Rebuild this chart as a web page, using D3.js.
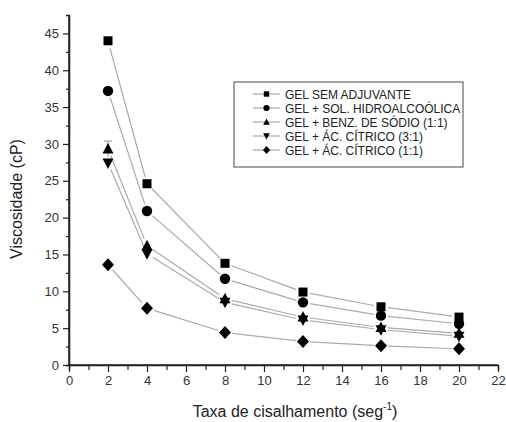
<!DOCTYPE html>
<html><head><meta charset="utf-8">
<script src="https://cdn.jsdelivr.net/npm/d3@7/dist/d3.min.js"></script>
<style>body{margin:0;background:#fff}svg{display:block}text{font-family:"Liberation Sans",Arial,sans-serif;fill:#222}</style>
</head><body><svg id="c" width="506" height="422"></svg>
<script>
const xs = [2, 4, 8, 12, 16, 20];
const seriesNames = ["GEL SEM ADJUVANTE","GEL + SOL. HIDROALCOÓLICA","GEL + BENZ. DE SÓDIO (1:1)","GEL + ÁC. CÍTRICO (3:1)","GEL + ÁC. CÍTRICO (1:1)"];
const semAdjuvante = [44.0, 24.6, 13.8, 9.9, 7.9, 6.5];
const solHidro = [37.2, 20.9, 11.7, 8.5, 6.7, 5.6];
const benzSodio = [29.3, 16.2, 9.0, 6.5, 5.1, 4.3];
const acCitrico31 = [27.4, 15.1, 8.5, 6.1, 4.8, 3.9];
const acCitrico11 = [13.6, 7.7, 4.4, 3.2, 2.6, 2.2];
const errBar = {x: 2, lo: 28.2, hi: 30.4};
const xTicks = [0,2,4,6,8,10,12,14,16,18,20,22];
const yTicks = [0,5,10,15,20,25,30,35,40,45];
const symbols = ["square","circle","triangle","triangleDown","diamond"];
const allSeries = [semAdjuvante, solHidro, benzSodio, acCitrico31, acCitrico11];

const svg = d3.select("#c");
const x = d3.scaleLinear().domain([0,22]).range([69,498]);
const y = d3.scaleLinear().domain([0,47.5]).range([365,15]);

function marker(g, type, cx, cy, s) {
  if (type==="square") g.append("rect").attr("x",cx-4.5*s).attr("y",cy-4.5*s).attr("width",9*s).attr("height",9*s).attr("fill","#000");
  else if (type==="circle") g.append("circle").attr("cx",cx).attr("cy",cy).attr("r",5.2*s).attr("fill","#000");
  else if (type==="triangle") g.append("path").attr("d",`M${cx},${cy-6*s}L${cx+5.5*s},${cy+4.5*s}L${cx-5.5*s},${cy+4.5*s}Z`).attr("fill","#000");
  else if (type==="triangleDown") g.append("path").attr("d",`M${cx},${cy+6*s}L${cx+5.5*s},${cy-4.5*s}L${cx-5.5*s},${cy-4.5*s}Z`).attr("fill","#000");
  else g.append("path").attr("d",`M${cx},${cy-6.5*s}L${cx+6*s},${cy}L${cx},${cy+6.5*s}L${cx-6*s},${cy}Z`).attr("fill","#000");
}

// axes
const ax = svg.append("g").attr("transform","translate(0,365)")
  .call(d3.axisBottom(x).tickValues(xTicks).tickSize(7).tickPadding(4).tickFormat(d3.format("d")));
const axm = svg.append("g").attr("transform","translate(0,365)")
  .call(d3.axisBottom(x).tickValues(d3.range(1,22,2)).tickSize(5).tickFormat(""));
const ay = svg.append("g").attr("transform","translate(69,0)")
  .call(d3.axisLeft(y).tickValues(yTicks).tickSize(6).tickPadding(4).tickFormat(d3.format("d")));
const aym = svg.append("g").attr("transform","translate(69,0)")
  .call(d3.axisLeft(y).tickValues(d3.range(2.5,47.5,5)).tickSize(3).tickFormat(""));
[ax,axm,ay,aym].forEach(a=>{
  a.select(".domain").attr("stroke","#222").attr("stroke-width",1.5);
  a.selectAll(".tick line").attr("stroke","#222").attr("stroke-width",1.2);
  a.selectAll(".tick text").attr("font-size",13).style("fill","#333").attr("font-family","Liberation Sans, Arial, sans-serif");
});
ay.select(".domain").attr("d","M0,15V365");
ax.select(".domain").attr("d","M69,0H498");

// lines (with gaps at markers)
const gl = svg.append("g");
allSeries.forEach(vals=>{
  for (let i=0;i<xs.length-1;i++){
    const x1=x(xs[i]), y1=y(vals[i]), x2=x(xs[i+1]), y2=y(vals[i+1]);
    const L=Math.hypot(x2-x1,y2-y1), g=7;
    const ux=(x2-x1)/L, uy=(y2-y1)/L;
    gl.append("line").attr("x1",x1+ux*g).attr("y1",y1+uy*g).attr("x2",x2-ux*g).attr("y2",y2-uy*g)
      .attr("stroke","#aaa").attr("stroke-width",1.2);
  }
});
// error bar
svg.append("line").attr("x1",x(errBar.x)).attr("x2",x(errBar.x)).attr("y1",y(errBar.lo)).attr("y2",y(errBar.hi)).attr("stroke","#999").attr("stroke-width",1);
svg.append("line").attr("x1",x(errBar.x)-4).attr("x2",x(errBar.x)+4).attr("y1",y(errBar.hi)).attr("y2",y(errBar.hi)).attr("stroke","#999").attr("stroke-width",1);

const gm = svg.append("g");
allSeries.forEach((vals,k)=>{
  vals.forEach((v,i)=>marker(gm, symbols[k], x(xs[i]), y(v), 1));
});

// legend
const lg = svg.append("g");
lg.append("rect").attr("x",234).attr("y",82).attr("width",229).attr("height",85).attr("fill","none").attr("stroke","#666").attr("stroke-width",1.2);
seriesNames.forEach((n,k)=>{
  const yy = 94 + k*14;
  lg.append("line").attr("x1",253).attr("x2",280).attr("y1",yy).attr("y2",yy).attr("stroke","#999").attr("stroke-width",1);
  marker(lg, symbols[k], 266.5, yy, 0.6);
  lg.append("text").attr("x",285).attr("y",yy+4.5).attr("font-size",12).text(n);
});

// axis titles
svg.append("text").attr("transform","translate(22,199) rotate(-90)").attr("text-anchor","middle").attr("font-size",16).text("Viscosidade (cP)");
const xt = svg.append("text").attr("x",295).attr("y",417).attr("text-anchor","middle").attr("font-size",16);
xt.append("tspan").text("Taxa de cisalhamento (seg");
xt.append("tspan").attr("font-size",10).attr("dy",-7).text("-1");
xt.append("tspan").attr("dy",7).text(")");
</script></body></html>
